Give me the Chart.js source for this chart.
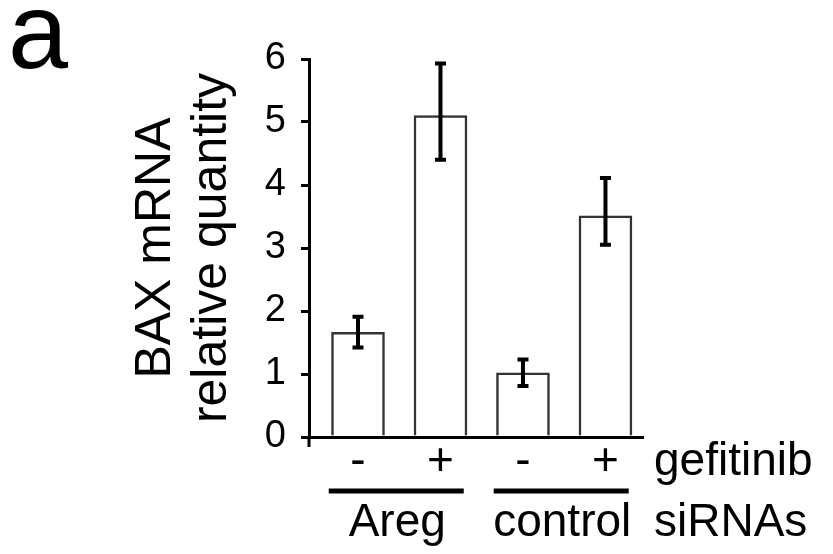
<!DOCTYPE html>
<html>
<head>
<meta charset="utf-8">
<script src="https://cdn.jsdelivr.net/npm/chart.js@4.4.1/dist/chart.umd.min.js"></script>
<style>
  html, body { margin: 0; padding: 0; background: #ffffff; }
  canvas { display: block; }
</style>
</head>
<body>
<canvas id="c" width="833" height="554"></canvas>
<script>
// ---- data ----
const gefitinibLabels = ['-', '+', '-', '+'];
const sirnaGroups = ['Areg', 'control'];
const groupMembers = [[0, 1], [2, 3]];
const baxValues = [1.66, 5.10, 1.02, 3.51];
const errorPlus = [0.25, 0.83, 0.21, 0.60];
const errorMinus = [0.24, 0.70, 0.21, 0.46];
const yTicks = [0, 1, 2, 3, 4, 5, 6];
const yTitleLines = ['BAX mRNA', 'relative quantity'];
const panelLetter = 'a';
const rowLabels = ['gefitinib', 'siRNAs'];

const FONT = "'Liberation Sans', Arial, Helvetica, sans-serif";

const errorBarPlugin = {
  id: 'errorBars',
  afterDatasetsDraw(chart) {
    const ctx = chart.ctx;
    const y = chart.scales.y;
    const meta = chart.getDatasetMeta(0);
    ctx.save();
    ctx.strokeStyle = '#000';
    ctx.lineWidth = 4;
    ctx.lineCap = 'butt';
    meta.data.forEach((el, i) => {
      const v = baxValues[i];
      const yt = y.getPixelForValue(v + errorPlus[i]);
      const yb = y.getPixelForValue(v - errorMinus[i]);
      const x = el.x;
      ctx.beginPath();
      ctx.moveTo(x, yt); ctx.lineTo(x, yb);
      ctx.moveTo(x - 5.5, yt); ctx.lineTo(x + 5.5, yt);
      ctx.moveTo(x - 5.5, yb); ctx.lineTo(x + 5.5, yb);
      ctx.stroke();
    });
    ctx.restore();
  }
};

const annotationPlugin = {
  id: 'annotations',
  afterDraw(chart) {
    const ctx = chart.ctx;
    const xs = chart.scales.x;
    const area = chart.chartArea;
    ctx.save();
    // y axis extends slightly below the x axis
    ctx.strokeStyle = '#000';
    ctx.lineWidth = 3;
    ctx.beginPath();
    ctx.moveTo(area.left, area.bottom);
    ctx.lineTo(area.left, area.bottom + 10);
    ctx.stroke();

    // panel letter
    ctx.fillStyle = '#000';
    ctx.font = '108px ' + FONT;
    ctx.textAlign = 'left';
    ctx.textBaseline = 'alphabetic';
    ctx.fillText(panelLetter, 8, 68);

    // group lines and labels
    ctx.font = '46px ' + FONT;
    ctx.textAlign = 'center';
    ctx.textBaseline = 'middle';
    groupMembers.forEach((m, g) => {
      const xa = xs.getPixelForValue(m[0]);
      const xb = xs.getPixelForValue(m[1]);
      const cx = (xa + xb) / 2;
      const half = 67.5;
      ctx.lineWidth = 5;
      ctx.beginPath();
      ctx.moveTo(cx - half - 3, 491);
      ctx.lineTo(cx + half - 3, 491);
      ctx.stroke();
      ctx.fillText(sirnaGroups[g], cx - 2, 523);
    });
    ctx.textAlign = 'left';
    ctx.fillText(rowLabels[0], 654, 462);
    ctx.fillText(rowLabels[1], 654, 523);
    ctx.restore();
  }
};

new Chart(document.getElementById('c'), {
  type: 'bar',
  data: {
    datasets: [{
      data: baxValues.map((v, i) => ({ x: i, y: v })),
      backgroundColor: '#ffffff',
      borderColor: '#333333',
      borderWidth: 2.5,
      barThickness: 53
    }]
  },
  options: {
    responsive: false,
    animation: false,
    devicePixelRatio: 1,
    layout: { padding: { left: 128, right: 190, top: 59, bottom: 0 } },
    plugins: { legend: { display: false }, tooltip: { enabled: false } },
    scales: {
      x: {
        type: 'linear',
        offset: false,
        min: -0.594,
        max: 3.455,
        afterBuildTicks: (s) => { s.ticks = gefitinibLabels.map((_, i) => ({ value: i })); },
        afterFit: (s) => { s.height = 117; },
        grid: { display: false, drawTicks: false },
        border: { display: true, color: '#000', width: 3 },
        ticks: {
          autoSkip: false,
          maxRotation: 0,
          padding: 2,
          color: '#000',
          font: { family: FONT, size: 46, lineHeight: 1 },
          callback: (v) => gefitinibLabels[v] ?? ''
        }
      },
      y: {
        min: 0,
        max: 6,
        afterBuildTicks: (s) => { s.ticks = yTicks.map(v => ({ value: v })); },
        afterFit: (s) => { s.width = 181; },
        grid: { display: true, drawOnChartArea: false, drawTicks: true, tickLength: 8, color: '#000', lineWidth: 3 },
        border: { display: true, color: '#000', width: 3 },
        ticks: {
          padding: 15,
          color: '#000',
          font: { family: FONT, size: 38 }
        },
        title: {
          display: true,
          text: yTitleLines,
          color: '#000',
          padding: { top: 0, bottom: 0 },
          font: { family: FONT, size: 50, lineHeight: 1.12 }
        }
      }
    }
  },
  plugins: [errorBarPlugin, annotationPlugin]
});
</script>
</body>
</html>
